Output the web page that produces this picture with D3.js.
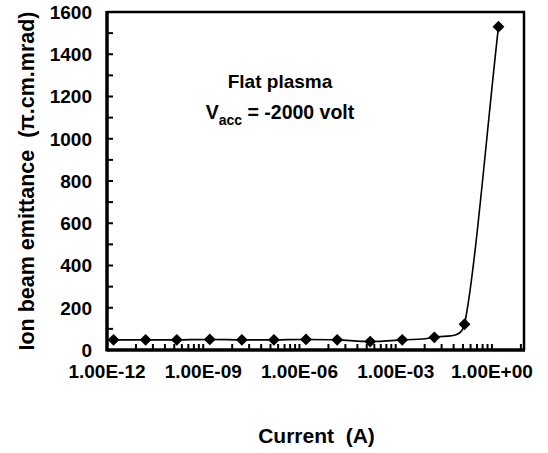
<!DOCTYPE html>
<html>
<head>
<meta charset="utf-8">
<script src="https://cdn.jsdelivr.net/npm/d3@7"></script>
<style>
    body { margin: 0; background: #fff; }
    text { font-family: "Liberation Sans", Arial, sans-serif; font-weight: bold; fill: #000; }
</style>
</head>
<body>
<svg id="chart" width="548" height="453"></svg>
<script>

// data
const current = [1.6e-12, 1.6e-11, 1.5e-10, 1.6e-9, 1.6e-8, 1.6e-7, 1.6e-6, 1.5e-5, 1.6e-4, 1.6e-3, 1.6e-2, 1.4e-1, 1.6e0];
const emittance = [48, 48, 48, 50, 48, 48, 50, 48, 40, 48, 60, 122, 1530];

const xTicks = [1e-12, 1e-9, 1e-6, 1e-3, 1e0];
const xTickLabels = ["1.00E-12", "1.00E-09", "1.00E-06", "1.00E-03", "1.00E+00"];
const yTicks = [0, 200, 400, 600, 800, 1000, 1200, 1400, 1600];

const svg = d3.select("#chart");

const plot = { left: 107, right: 524, top: 12, bottom: 350 };

const x = d3.scaleLog().domain([1e-12, 1e1]).range([plot.left, plot.right]);
const y = d3.scaleLinear().domain([0, 1600]).range([plot.bottom, plot.top]);

// minor ticks, Excel style on a base-1000 log axis (k^3 of each major)
let minorX = [];
xTicks.forEach(t => {
    for (let k = 2; k <= 9; k++) {
        let v = t * k * k * k;
        if (v < 1e1) minorX.push(v);
    }
});
xTicks.slice(1).forEach(t => minorX.push(t));

const minorY = d3.range(100, 1600, 100);

// frame
svg.append("path")
    .attr("d", `M${plot.left},${plot.top}H${plot.right}V${plot.bottom}`)
    .attr("fill", "none")
    .attr("stroke", "#000")
    .attr("stroke-width", 2.5);

// tick marks, all pointing inside
svg.append("g")
    .selectAll("line")
    .data(minorX)
    .join("line")
    .attr("x1", d => x(d))
    .attr("x2", d => x(d))
    .attr("y1", plot.bottom)
    .attr("y2", plot.bottom - 6)
    .attr("stroke", "#000")
    .attr("stroke-width", 2);

svg.append("g")
    .selectAll("line")
    .data(minorY)
    .join("line")
    .attr("x1", plot.left)
    .attr("x2", plot.left + 6)
    .attr("y1", d => y(d))
    .attr("y2", d => y(d))
    .attr("stroke", "#000")
    .attr("stroke-width", 2);

// axes lines
svg.append("line")
    .attr("x1", plot.left).attr("x2", plot.left)
    .attr("y1", plot.top - 1).attr("y2", plot.bottom + 1.5)
    .attr("stroke", "#000").attr("stroke-width", 3.5);

svg.append("line")
    .attr("x1", plot.left).attr("x2", plot.right + 1)
    .attr("y1", plot.bottom).attr("y2", plot.bottom)
    .attr("stroke", "#000").attr("stroke-width", 3.5);

// tick labels
svg.append("g")
    .selectAll("text")
    .data(yTicks)
    .join("text")
    .attr("x", 92)
    .attr("y", d => y(d))
    .attr("dy", "0.36em")
    .attr("text-anchor", "end")
    .style("font-size", "19px")
    .text(d => d);

svg.append("g")
    .selectAll("text")
    .data(xTicks)
    .join("text")
    .attr("x", d => x(d))
    .attr("y", 378)
    .attr("text-anchor", "middle")
    .style("font-size", "19px")
    .text((d, i) => xTickLabels[i]);

// axis titles
svg.append("text")
    .attr("x", (plot.left + plot.right) / 2 + 1)
    .attr("y", 443)
    .attr("text-anchor", "middle")
    .style("font-size", "21px")
    .attr("xml:space", "preserve")
    .text("Current  (A)");

svg.append("text")
    .attr("transform", `translate(34,${(plot.top + plot.bottom) / 2}) rotate(-90)`)
    .attr("text-anchor", "middle")
    .style("font-size", "21.5px")
    .attr("xml:space", "preserve")
    .text("Ion beam emittance  (\u03c0.cm.mrad)");

// annotation
svg.append("text")
    .attr("x", 280)
    .attr("y", 88)
    .attr("text-anchor", "middle")
    .style("font-size", "19px")
    .text("Flat plasma");

let note = svg.append("text")
    .attr("x", 280)
    .attr("y", 119)
    .attr("text-anchor", "middle")
    .style("font-size", "19.5px");
note.append("tspan").text("V");
note.append("tspan").attr("dy", 6).style("font-size", "14px").text("acc");
note.append("tspan").attr("dy", -6).text(" = -2000 volt");

// the series
const pts = current.map((c, i) => [x(c), y(emittance[i])]);

// Excel-ish smoothing: bezier handles of (next - prev)/6,
// shortened when the segment is short so it doesn't overshoot
const smoothPath = (p) => {
    let path = d3.path();
    let n = p.length;
    let tangent = i => {
        let a = p[Math.max(i - 1, 0)], b = p[Math.min(i + 1, n - 1)];
        let k = (i == 0 || i == n - 1) ? 2 : 1;
        return [(b[0] - a[0]) * k, (b[1] - a[1]) * k];
    };
    let handle = (i, seg) => {
        let t = tangent(i);
        let tl = Math.hypot(t[0], t[1]) || 1;
        let f = Math.min(1 / 6, 0.5 * seg / tl);
        return [t[0] * f, t[1] * f];
    };
    path.moveTo(p[0][0], p[0][1]);
    for (let i = 0; i < n - 1; i++) {
        let seg = Math.hypot(p[i + 1][0] - p[i][0], p[i + 1][1] - p[i][1]);
        let h1 = handle(i, seg), h2 = handle(i + 1, seg);
        path.bezierCurveTo(
            p[i][0] + h1[0], p[i][1] + h1[1],
            p[i + 1][0] - h2[0], p[i + 1][1] - h2[1],
            p[i + 1][0], p[i + 1][1]);
    }
    return path.toString();
};

svg.append("path")
    .attr("d", smoothPath(pts))
    .attr("fill", "none")
    .attr("stroke", "#000")
    .attr("stroke-width", 1.6);

const diamond = d3.symbol().type(d3.symbolSquare).size(70);

svg.append("g")
    .selectAll("path")
    .data(pts)
    .join("path")
    .attr("d", diamond)
    .attr("transform", d => `translate(${d[0]},${d[1]}) rotate(45)`)
    .attr("fill", "#000");

</script>
</body>
</html>
